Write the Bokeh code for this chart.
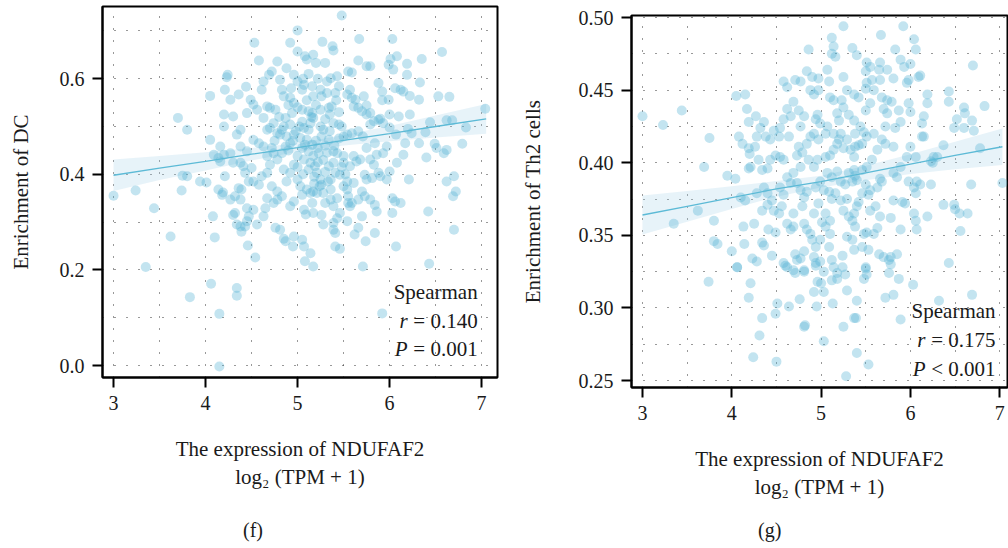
from bokeh.plotting import figure
from bokeh.layouts import row, column
from bokeh.models import FixedTicker, PrintfTickFormatter, ColumnDataSource, Div
from bokeh.embed import file_html
from bokeh.resources import INLINE
from bokeh.core.properties import value

# ---------------- data: panel (f) ----------------
dc_x = [5.48, 5.00, 4.53, 4.92, 5.27, 5.67, 6.03, 5.38, 5.39, 6.57, 6.35, 4.58, 4.78, 5.00, 5.08, 5.17, 5.10, 5.20, 5.30, 5.66,
        5.75, 5.79, 5.55, 5.59, 5.99, 6.08, 6.19, 6.01, 6.04, 6.19, 4.24, 4.23, 4.05, 4.21, 4.27, 4.36, 4.44, 4.52, 4.61, 4.69,
        4.72, 4.63, 4.81, 4.88, 6.33, 6.53, 6.65, 6.32, 6.06, 6.12, 6.15, 6.22, 5.92, 5.88, 5.92, 5.72, 5.59, 5.75, 5.79, 5.66,
        5.90, 6.00, 6.10, 6.00, 6.07, 6.20, 6.24, 6.39, 6.44, 6.62, 6.68, 6.83, 7.04, 6.79, 6.49, 6.51, 6.59, 6.62, 6.40, 6.32,
        6.17, 6.15, 6.08, 6.21, 6.00, 5.97, 6.62, 6.70, 6.72, 6.69, 6.42, 6.70, 6.07, 6.03, 6.06, 6.12, 6.03, 5.86, 5.84, 5.70,
        5.66, 5.62, 5.74, 5.84, 5.71, 5.41, 5.46, 5.41, 5.39, 5.39, 5.55, 5.57, 5.66, 5.46, 5.26, 5.28, 5.17, 5.16, 5.07, 5.09,
        5.05, 5.07, 5.14, 5.08, 5.17, 4.85, 4.87, 4.95, 4.96, 4.76, 4.81, 4.63, 4.65, 4.56, 4.47, 4.45, 4.43, 4.46, 4.54, 4.34,
        4.38, 4.39, 4.32, 4.30, 4.27, 4.32, 4.38, 4.36, 4.39, 4.19, 4.18, 4.14, 4.10, 4.08, 3.74, 3.75, 3.80, 3.94, 4.01, 3.62,
        3.44, 3.24, 3.00, 3.70, 3.80, 4.05, 4.09, 4.16, 4.20, 4.27, 4.16, 4.14, 4.21, 4.20, 4.20, 4.30, 4.38, 4.34, 4.30, 4.38,
        4.38, 4.45, 4.41, 4.43, 4.50, 4.47, 4.52, 4.58, 4.45, 4.49, 4.56, 4.63, 4.67, 4.52, 4.58, 4.63, 4.67, 4.70, 4.78, 4.74,
        4.78, 4.61, 4.67, 4.72, 4.78, 4.83, 4.88, 4.85, 4.92, 4.96, 5.00, 4.83, 4.87, 4.92, 4.88, 4.96, 5.03, 5.10, 5.16, 5.12,
        5.17, 5.23, 5.07, 5.14, 5.19, 5.21, 5.25, 5.26, 5.17, 5.14, 5.21, 5.05, 5.10, 5.28, 5.36, 5.30, 5.36, 5.43, 5.50, 5.54,
        5.34, 5.39, 5.41, 5.46, 5.36, 5.54, 5.61, 5.39, 5.43, 5.50, 5.50, 5.57, 5.64, 5.61, 5.68, 5.75, 5.79, 5.83, 5.73, 5.75,
        5.81, 5.88, 5.90, 5.93, 5.97, 5.86, 5.59, 5.66, 5.71, 5.50, 5.54, 5.39, 5.45, 5.48, 5.79, 5.83, 5.88, 5.93, 5.75, 5.70,
        5.61, 5.63, 5.54, 5.57, 5.41, 5.45, 5.32, 5.36, 5.43, 5.25, 5.26, 5.16, 5.17, 5.07, 5.05, 5.00, 4.96, 4.83, 4.85, 4.92,
        4.96, 5.05, 5.12, 5.16, 5.17, 5.14, 5.25, 5.34, 5.37, 4.94, 4.87, 4.76, 4.70, 4.74, 5.02, 5.07, 5.12, 5.25, 5.28, 5.26,
        5.34, 4.92, 4.67, 4.70, 4.81, 4.83, 5.84, 5.99, 6.22, 5.55, 5.59, 5.70, 5.73, 5.79, 5.00, 5.03, 4.96, 4.92, 4.74, 4.78,
        4.67, 4.52, 4.45, 5.39, 5.43, 5.54, 3.35, 6.43, 4.06, 3.83, 4.34, 4.34, 4.15, 5.92, 4.15,
        4.90, 4.95, 5.05, 5.08, 5.20, 5.22, 5.30, 5.32, 5.28, 5.22, 5.12, 5.18, 5.30, 5.06, 5.00, 4.98, 5.05, 5.15, 5.20, 5.10,
        5.00, 4.90, 4.80, 4.85, 4.75, 4.72, 5.30, 5.35, 5.45, 5.42, 5.32, 5.22, 5.12, 5.06, 4.93, 5.40, 5.45, 5.35, 5.48, 5.52,
        5.18, 5.24, 5.33]
dc_y = [0.732, 0.701, 0.675, 0.675, 0.677, 0.683, 0.683, 0.668, 0.659, 0.656, 0.641, 0.638, 0.636, 0.657, 0.647, 0.650, 0.640, 0.633, 0.633, 0.638,
        0.626, 0.626, 0.615, 0.613, 0.629, 0.647, 0.631, 0.641, 0.619, 0.608, 0.608, 0.603, 0.564, 0.577, 0.556, 0.567, 0.583, 0.546, 0.577, 0.608,
        0.615, 0.594, 0.598, 0.622, 0.592, 0.563, 0.562, 0.556, 0.580, 0.577, 0.573, 0.564, 0.555, 0.591, 0.573, 0.563, 0.560, 0.544, 0.528, 0.539,
        0.516, 0.525, 0.521, 0.498, 0.483, 0.495, 0.486, 0.488, 0.509, 0.513, 0.513, 0.498, 0.537, 0.464, 0.464, 0.455, 0.444, 0.451, 0.435, 0.465,
        0.465, 0.441, 0.424, 0.389, 0.406, 0.389, 0.385, 0.396, 0.364, 0.354, 0.322, 0.284, 0.249, 0.350, 0.343, 0.340, 0.319, 0.322, 0.336, 0.312,
        0.288, 0.274, 0.260, 0.277, 0.207, 0.249, 0.244, 0.277, 0.284, 0.298, 0.340, 0.333, 0.347, 0.319, 0.315, 0.295, 0.319, 0.340, 0.326, 0.316,
        0.263, 0.249, 0.235, 0.218, 0.207, 0.265, 0.260, 0.249, 0.270, 0.288, 0.284, 0.312, 0.329, 0.295, 0.312, 0.302, 0.291, 0.251, 0.226, 0.295,
        0.291, 0.280, 0.319, 0.315, 0.347, 0.354, 0.347, 0.371, 0.368, 0.362, 0.357, 0.368, 0.268, 0.312, 0.366, 0.397, 0.396, 0.385, 0.383, 0.270,
        0.329, 0.366, 0.355, 0.518, 0.493, 0.472, 0.441, 0.458, 0.441, 0.444, 0.427, 0.434, 0.396, 0.500, 0.525, 0.521, 0.493, 0.483, 0.424, 0.424,
        0.458, 0.448, 0.417, 0.403, 0.413, 0.385, 0.385, 0.378, 0.528, 0.556, 0.535, 0.518, 0.542, 0.472, 0.465, 0.458, 0.493, 0.497, 0.486, 0.444,
        0.431, 0.396, 0.403, 0.375, 0.364, 0.354, 0.385, 0.410, 0.403, 0.420, 0.438, 0.444, 0.458, 0.465, 0.479, 0.483, 0.476, 0.472, 0.462, 0.448,
        0.438, 0.444, 0.431, 0.424, 0.417, 0.403, 0.389, 0.378, 0.364, 0.361, 0.361, 0.357, 0.368, 0.361, 0.368, 0.340, 0.347, 0.350, 0.375, 0.368,
        0.417, 0.424, 0.403, 0.399, 0.389, 0.385, 0.382, 0.448, 0.444, 0.438, 0.424, 0.417, 0.427, 0.438, 0.431, 0.455, 0.431, 0.420, 0.399, 0.389,
        0.392, 0.403, 0.396, 0.444, 0.458, 0.441, 0.486, 0.490, 0.479, 0.479, 0.483, 0.507, 0.504, 0.500, 0.504, 0.511, 0.514, 0.507, 0.525, 0.532,
        0.542, 0.556, 0.567, 0.577, 0.570, 0.584, 0.594, 0.601, 0.605, 0.577, 0.563, 0.584, 0.563, 0.587, 0.577, 0.594, 0.608, 0.577, 0.563, 0.560,
        0.549, 0.535, 0.532, 0.528, 0.518, 0.507, 0.535, 0.539, 0.542, 0.528, 0.518, 0.535, 0.539, 0.507, 0.500, 0.497, 0.493, 0.500, 0.493, 0.479,
        0.472, 0.504, 0.438, 0.420, 0.483, 0.493, 0.465, 0.556, 0.525, 0.354, 0.340, 0.364, 0.354, 0.347, 0.389, 0.375, 0.343, 0.333, 0.340, 0.347,
        0.350, 0.326, 0.329, 0.333, 0.308, 0.302, 0.206, 0.213, 0.171, 0.143, 0.162, 0.146, 0.108, 0.109, -0.002,
        0.450, 0.470, 0.455, 0.462, 0.470, 0.455, 0.460, 0.445, 0.430, 0.425, 0.410, 0.395, 0.405, 0.400, 0.415, 0.490, 0.510, 0.520, 0.545, 0.555,
        0.540, 0.545, 0.520, 0.500, 0.470, 0.455, 0.515, 0.525, 0.530, 0.555, 0.570, 0.600, 0.610, 0.600, 0.580, 0.460, 0.475, 0.490, 0.415, 0.400,
        0.380, 0.375, 0.385]

dc_fit_x = [3.0, 3.5, 4.0, 4.5, 5.0, 5.5, 6.0, 6.5, 7.05]
dc_fit_y = [0.398, 0.413, 0.427, 0.442, 0.456, 0.471, 0.485, 0.500, 0.516]
dc_lo = [0.365, 0.388, 0.408, 0.429, 0.447, 0.460, 0.469, 0.477, 0.485]
dc_hi = [0.431, 0.438, 0.446, 0.455, 0.465, 0.482, 0.501, 0.523, 0.547]

# ---------------- data: panel (g) ----------------
th2_x = [3.00, 3.23, 3.44, 3.75, 3.69, 3.35, 3.62, 3.80, 3.95, 4.04, 4.05, 4.15, 4.17, 4.08, 4.12, 4.19, 4.26, 4.20, 4.27, 4.19,
         4.36, 4.38, 4.28, 4.32, 4.47, 4.43, 4.54, 4.53, 4.64, 4.19, 4.21, 4.30, 4.34, 4.40, 4.43, 4.49, 4.54, 4.58, 4.10, 4.15,
         4.28, 4.36, 4.40, 4.40, 4.34, 4.45, 4.54, 4.58, 4.47, 4.53, 4.56, 4.13, 4.25, 4.14, 4.00, 4.06, 4.23, 4.28, 3.80, 3.84,
         4.34, 4.36, 4.45, 4.41, 4.49, 4.62, 4.66, 4.69, 4.58, 4.62, 4.71, 4.73, 4.69, 4.81, 4.84, 4.88, 4.90, 4.94, 4.81, 4.77,
         4.81, 4.94, 4.99, 5.09, 5.10, 5.01, 5.05, 5.12, 5.14, 5.18, 5.24, 5.29, 5.35, 5.37, 5.25, 5.31, 5.37, 5.40, 5.42, 5.48,
         5.51, 5.46, 5.53, 5.65, 5.63, 5.59, 5.50, 5.51, 5.70, 5.76, 5.78, 5.85, 5.66, 5.78, 5.55, 5.61, 5.89, 6.06, 6.04, 6.07,
         6.19, 6.43, 6.55, 6.50, 6.49, 6.56, 6.37, 6.64, 6.68, 6.78, 6.70, 6.83, 7.03, 6.60, 6.61, 6.52, 6.49, 6.60, 6.71, 6.69,
         6.43, 6.43, 6.37, 6.26, 6.23, 6.19, 6.19, 6.15, 6.13, 6.13, 6.15, 6.11, 6.09, 5.98, 5.96, 5.92, 6.04, 6.06, 5.83, 5.89,
         5.93, 6.00, 5.81, 5.74, 5.65, 5.66, 5.68, 5.74, 5.79, 5.87, 5.70, 5.74, 5.72, 5.83, 5.89, 6.00, 5.98, 6.00, 5.96, 6.06,
         5.89, 5.81, 5.85, 5.81, 5.91, 5.94, 5.98, 6.04, 6.07, 6.11, 6.06, 6.23, 6.25, 6.30, 5.66, 5.63, 5.68, 5.53, 5.55, 5.51,
         5.57, 5.46, 5.40, 5.63, 5.68, 5.72, 5.59, 5.51, 5.46, 5.38, 5.42, 5.44, 5.48, 5.37, 5.31, 5.50, 5.55, 5.42, 5.50, 5.51,
         5.57, 5.59, 5.51, 5.55, 5.50, 5.66, 5.35, 5.40, 5.67, 5.25, 5.12, 5.14, 5.12, 5.16, 4.86, 4.84, 4.90, 4.58, 4.62, 4.71,
         4.77, 4.88, 4.92, 4.97, 5.07, 5.09, 5.10, 5.14, 5.25, 5.29, 5.37, 5.23, 5.25, 5.18, 5.20, 5.07, 5.05, 5.22, 5.20, 5.29,
         5.25, 5.33, 5.37, 5.14, 5.10, 5.05, 4.94, 4.99, 4.96, 4.92, 4.88, 4.77, 4.81, 4.75, 4.69, 4.62, 4.66, 4.58, 4.75, 4.79,
         4.73, 4.84, 4.86, 4.96, 4.92, 4.77, 4.69, 4.62, 4.66, 4.73, 4.77, 4.81, 4.84, 4.94, 4.99, 5.03, 5.07, 5.12, 5.18, 5.22,
         5.27, 5.31, 5.37, 5.38, 5.35, 5.09, 5.12, 5.16, 5.22, 5.29, 4.97, 4.92, 4.79, 4.69, 5.05, 5.10, 4.92, 4.99, 5.35, 5.38,
         5.14, 5.18, 5.38, 4.97, 4.97, 5.81, 5.50, 5.46,
         3.74, 4.06, 4.21, 4.19, 4.34, 4.31, 4.24, 4.50, 4.49, 4.51, 4.64, 4.76, 4.81, 4.82, 4.71, 4.81, 4.60, 4.94, 4.96, 5.00,
         4.92, 4.95, 5.03, 5.03, 5.13, 5.03, 5.12, 5.18, 5.24, 5.27, 5.29, 5.25, 5.37, 5.39, 5.40, 5.40, 5.28, 5.53, 5.48, 5.50,
         5.72, 5.81, 5.89, 5.87, 5.76, 5.78, 6.03, 6.32, 6.69]
th2_y = [0.432, 0.426, 0.436, 0.417, 0.397, 0.358, 0.367, 0.360, 0.391, 0.389, 0.446, 0.447, 0.437, 0.418, 0.413, 0.410, 0.411, 0.406, 0.432, 0.428,
         0.428, 0.418, 0.418, 0.424, 0.422, 0.416, 0.424, 0.418, 0.418, 0.396, 0.397, 0.402, 0.395, 0.396, 0.402, 0.405, 0.404, 0.402, 0.376, 0.374,
         0.379, 0.383, 0.379, 0.371, 0.367, 0.374, 0.383, 0.378, 0.367, 0.365, 0.370, 0.356, 0.358, 0.344, 0.339, 0.328, 0.334, 0.332, 0.346, 0.344,
         0.345, 0.343, 0.336, 0.354, 0.352, 0.358, 0.354, 0.356, 0.331, 0.328, 0.337, 0.333, 0.326, 0.358, 0.354, 0.351, 0.347, 0.342, 0.339, 0.334,
         0.326, 0.331, 0.347, 0.342, 0.351, 0.359, 0.356, 0.333, 0.328, 0.324, 0.336, 0.349, 0.347, 0.340, 0.367, 0.363, 0.365, 0.370, 0.373, 0.351,
         0.352, 0.342, 0.340, 0.337, 0.355, 0.351, 0.328, 0.323, 0.335, 0.333, 0.335, 0.337, 0.363, 0.362, 0.367, 0.370, 0.354, 0.360, 0.365, 0.354,
         0.363, 0.331, 0.365, 0.368, 0.371, 0.353, 0.371, 0.365, 0.385, 0.410, 0.467, 0.439, 0.386, 0.438, 0.434, 0.430, 0.424, 0.424, 0.422, 0.429,
         0.449, 0.442, 0.412, 0.404, 0.401, 0.447, 0.441, 0.432, 0.427, 0.418, 0.418, 0.460, 0.459, 0.457, 0.455, 0.494, 0.485, 0.478, 0.478, 0.471,
         0.466, 0.468, 0.458, 0.464, 0.464, 0.457, 0.445, 0.443, 0.442, 0.436, 0.437, 0.434, 0.425, 0.424, 0.428, 0.435, 0.441, 0.411, 0.404, 0.404,
         0.397, 0.393, 0.390, 0.374, 0.373, 0.372, 0.387, 0.383, 0.387, 0.385, 0.379, 0.385, 0.400, 0.404, 0.389, 0.383, 0.387, 0.378, 0.381, 0.397,
         0.402, 0.395, 0.388, 0.409, 0.416, 0.413, 0.420, 0.418, 0.413, 0.411, 0.412, 0.425, 0.421, 0.429, 0.433, 0.436, 0.441, 0.445, 0.451, 0.455,
         0.457, 0.450, 0.469, 0.466, 0.463, 0.469, 0.479, 0.474, 0.488, 0.494, 0.486, 0.480, 0.475, 0.473, 0.478, 0.463, 0.459, 0.456, 0.452, 0.457,
         0.456, 0.450, 0.447, 0.450, 0.464, 0.456, 0.445, 0.443, 0.459, 0.450, 0.447, 0.443, 0.438, 0.434, 0.429, 0.425, 0.420, 0.420, 0.416, 0.416,
         0.410, 0.409, 0.404, 0.409, 0.405, 0.404, 0.430, 0.427, 0.433, 0.420, 0.418, 0.425, 0.432, 0.436, 0.442, 0.437, 0.432, 0.430, 0.411, 0.407,
         0.405, 0.413, 0.402, 0.402, 0.397, 0.397, 0.393, 0.390, 0.386, 0.386, 0.381, 0.376, 0.380, 0.383, 0.387, 0.381, 0.393, 0.390, 0.394, 0.387,
         0.385, 0.393, 0.395, 0.391, 0.387, 0.380, 0.375, 0.379, 0.374, 0.375, 0.372, 0.365, 0.370, 0.365, 0.365, 0.360, 0.335, 0.332, 0.360, 0.356,
         0.420, 0.413, 0.420, 0.416, 0.458, 0.411, 0.385, 0.379,
         0.318, 0.328, 0.317, 0.307, 0.293, 0.281, 0.266, 0.263, 0.296, 0.303, 0.301, 0.306, 0.287, 0.288, 0.324, 0.325, 0.329, 0.329, 0.318, 0.317,
         0.311, 0.301, 0.325, 0.311, 0.303, 0.277, 0.319, 0.320, 0.328, 0.323, 0.312, 0.287, 0.293, 0.293, 0.305, 0.269, 0.253, 0.261, 0.320, 0.327,
         0.307, 0.309, 0.292, 0.320, 0.324, 0.330, 0.316, 0.305, 0.309]

th2_fit_x = [3.0, 3.5, 4.0, 4.5, 5.0, 5.5, 6.0, 6.5, 7.03]
th2_fit_y = [0.364, 0.370, 0.376, 0.382, 0.387, 0.393, 0.399, 0.405, 0.411]
th2_lo = [0.3505, 0.3594, 0.3682, 0.3766, 0.3829, 0.3880, 0.3922, 0.3955, 0.3985]
th2_hi = [0.3775, 0.3806, 0.3838, 0.3874, 0.3911, 0.3980, 0.4058, 0.4145, 0.4235]

x_ticks = [3, 4, 5, 6, 7]
x_grid = [3, 3.5, 4, 4.5, 5, 5.5, 6, 6.5, 7]
dc_yticks = [0.0, 0.2, 0.4, 0.6]
dc_ygrid = [0.0, 0.1, 0.2, 0.3, 0.4, 0.5, 0.6, 0.7]
th2_yticks = [0.25, 0.30, 0.35, 0.40, 0.45, 0.50]
th2_ygrid = [0.25, 0.275, 0.30, 0.325, 0.35, 0.375, 0.40, 0.425, 0.45, 0.475, 0.50]

dc_stats = ["Spearman", "= 0.140", "= 0.001"]
th2_stats = ["Spearman", "= 0.175", "< 0.001"]
panel_tags = ["(f)", "(g)"]

FONT = "Liberation Serif"
PT_COLOR = "#52b3d3"
LINE_COLOR = "#5cbad6"
BAND_COLOR = "#9ecfe8"


def panel(xs, ys, fx, fy, lo, hi, xr, yr, yticks, ygrid, yfmt, ylabel, stats, tx, ty,
          width, height, mbl, mbr, mbt, mbb, ylabel_standoff):
    p = figure(width=width, height=height, x_range=xr, y_range=yr,
               output_backend="svg", toolbar_location=None,
               min_border_left=mbl, min_border_right=mbr, min_border_top=mbt, min_border_bottom=mbb)
    p.background_fill_color = "white"
    p.border_fill_color = "white"
    p.outline_line_color = "black"
    p.outline_line_width = 2

    p.varea(x=fx, y1=lo, y2=hi, fill_color=BAND_COLOR, fill_alpha=0.25)
    p.scatter(x=xs, y=ys, size=10, fill_color=PT_COLOR, fill_alpha=0.35, line_color=None)
    p.line(x=fx, y=fy, line_color=LINE_COLOR, line_width=1.3)

    src = ColumnDataSource(dict(x=[tx] * 3, y=ty, t=stats))
    p.text(x="x", y="y", text="t", source=src, text_font=value(FONT), text_font_size="21px",
           text_align="right", text_baseline="middle", text_color="#1a1a1a")
    src2 = ColumnDataSource(dict(x=[tx] * 2, y=ty[1:], t=["r", "P"]))
    p.text(x="x", y="y", text="t", source=src2, text_font=value(FONT), text_font_size="21px",
           text_font_style="italic", text_align="right", text_baseline="middle",
           text_color="#1a1a1a", x_offset=-70)

    p.xaxis.ticker = FixedTicker(ticks=x_ticks)
    p.yaxis.ticker = FixedTicker(ticks=yticks)
    p.yaxis.formatter = PrintfTickFormatter(format=yfmt)
    p.xgrid.ticker = FixedTicker(ticks=x_grid)
    p.ygrid.ticker = FixedTicker(ticks=ygrid)
    for g in (p.xgrid, p.ygrid):
        g.grid_line_color = "#333333"
        g.grid_line_dash = "1 11"
        g.grid_line_width = 1

    for ax in (p.xaxis, p.yaxis):
        ax.axis_line_color = "black"
        ax.axis_line_width = 2
        ax.major_tick_line_width = 2
        ax.major_tick_line_color = "black"
        ax.major_tick_out = 10
        ax.major_tick_in = 0
        ax.minor_tick_line_color = None
        ax.major_label_text_font = FONT
        ax.major_label_text_font_size = "20px"
        ax.major_label_text_color = "#1a1a1a"
        ax.major_label_standoff = 8
        ax.axis_label_text_font = FONT
        ax.axis_label_text_font_size = "21px"
        ax.axis_label_text_font_style = "normal"
        ax.axis_label_text_color = "#1a1a1a"

    p.xaxis.axis_label = "The expression of NDUFAF2\nlog\u2082 (TPM + 1)"
    p.xaxis.axis_label_standoff = 24
    p.yaxis.axis_label = ylabel
    p.yaxis.axis_label_standoff = ylabel_standoff
    return p


def tag_div(text, width, pad_left):
    html = ('<div style="font-family: \'Liberation Serif\', serif; font-size: 20px; color: #1a1a1a; '
            'text-align: left; padding-left: %dpx; padding-top: 9px; line-height: 23px; white-space: nowrap;">%s</div>'
            % (pad_left, text))
    return Div(text=html, width=width, height=38, margin=(0, 0, 0, 0))


p1 = panel(dc_x, dc_y, dc_fit_x, dc_fit_y, dc_lo, dc_hi, (2.880, 7.173), (-0.0251, 0.751),
           dc_yticks, dc_ygrid, "%.1f", "Enrichment of DC", dc_stats, 6.957, [0.154, 0.094, 0.035],
           500, 510, 102, 3, 6, 133, 24)
p2 = panel(th2_x, th2_y, th2_fit_x, th2_fit_y, th2_lo, th2_hi, (2.877, 7.087), (0.2452, 0.5014),
           th2_yticks, th2_ygrid, "%.2f", "Enrichment of Th2 cells", th2_stats, 6.953, [0.298, 0.2778, 0.2576],
           508, 510, 131, 1, 15, 123, 31)

d1 = tag_div(panel_tags[0], 500, 243)
d2 = tag_div(panel_tags[1], 508, 258)

layout = column(row(column(p1), column(p2)), row(d1, d2))
open("out.html", "w").write(file_html(layout, INLINE))
